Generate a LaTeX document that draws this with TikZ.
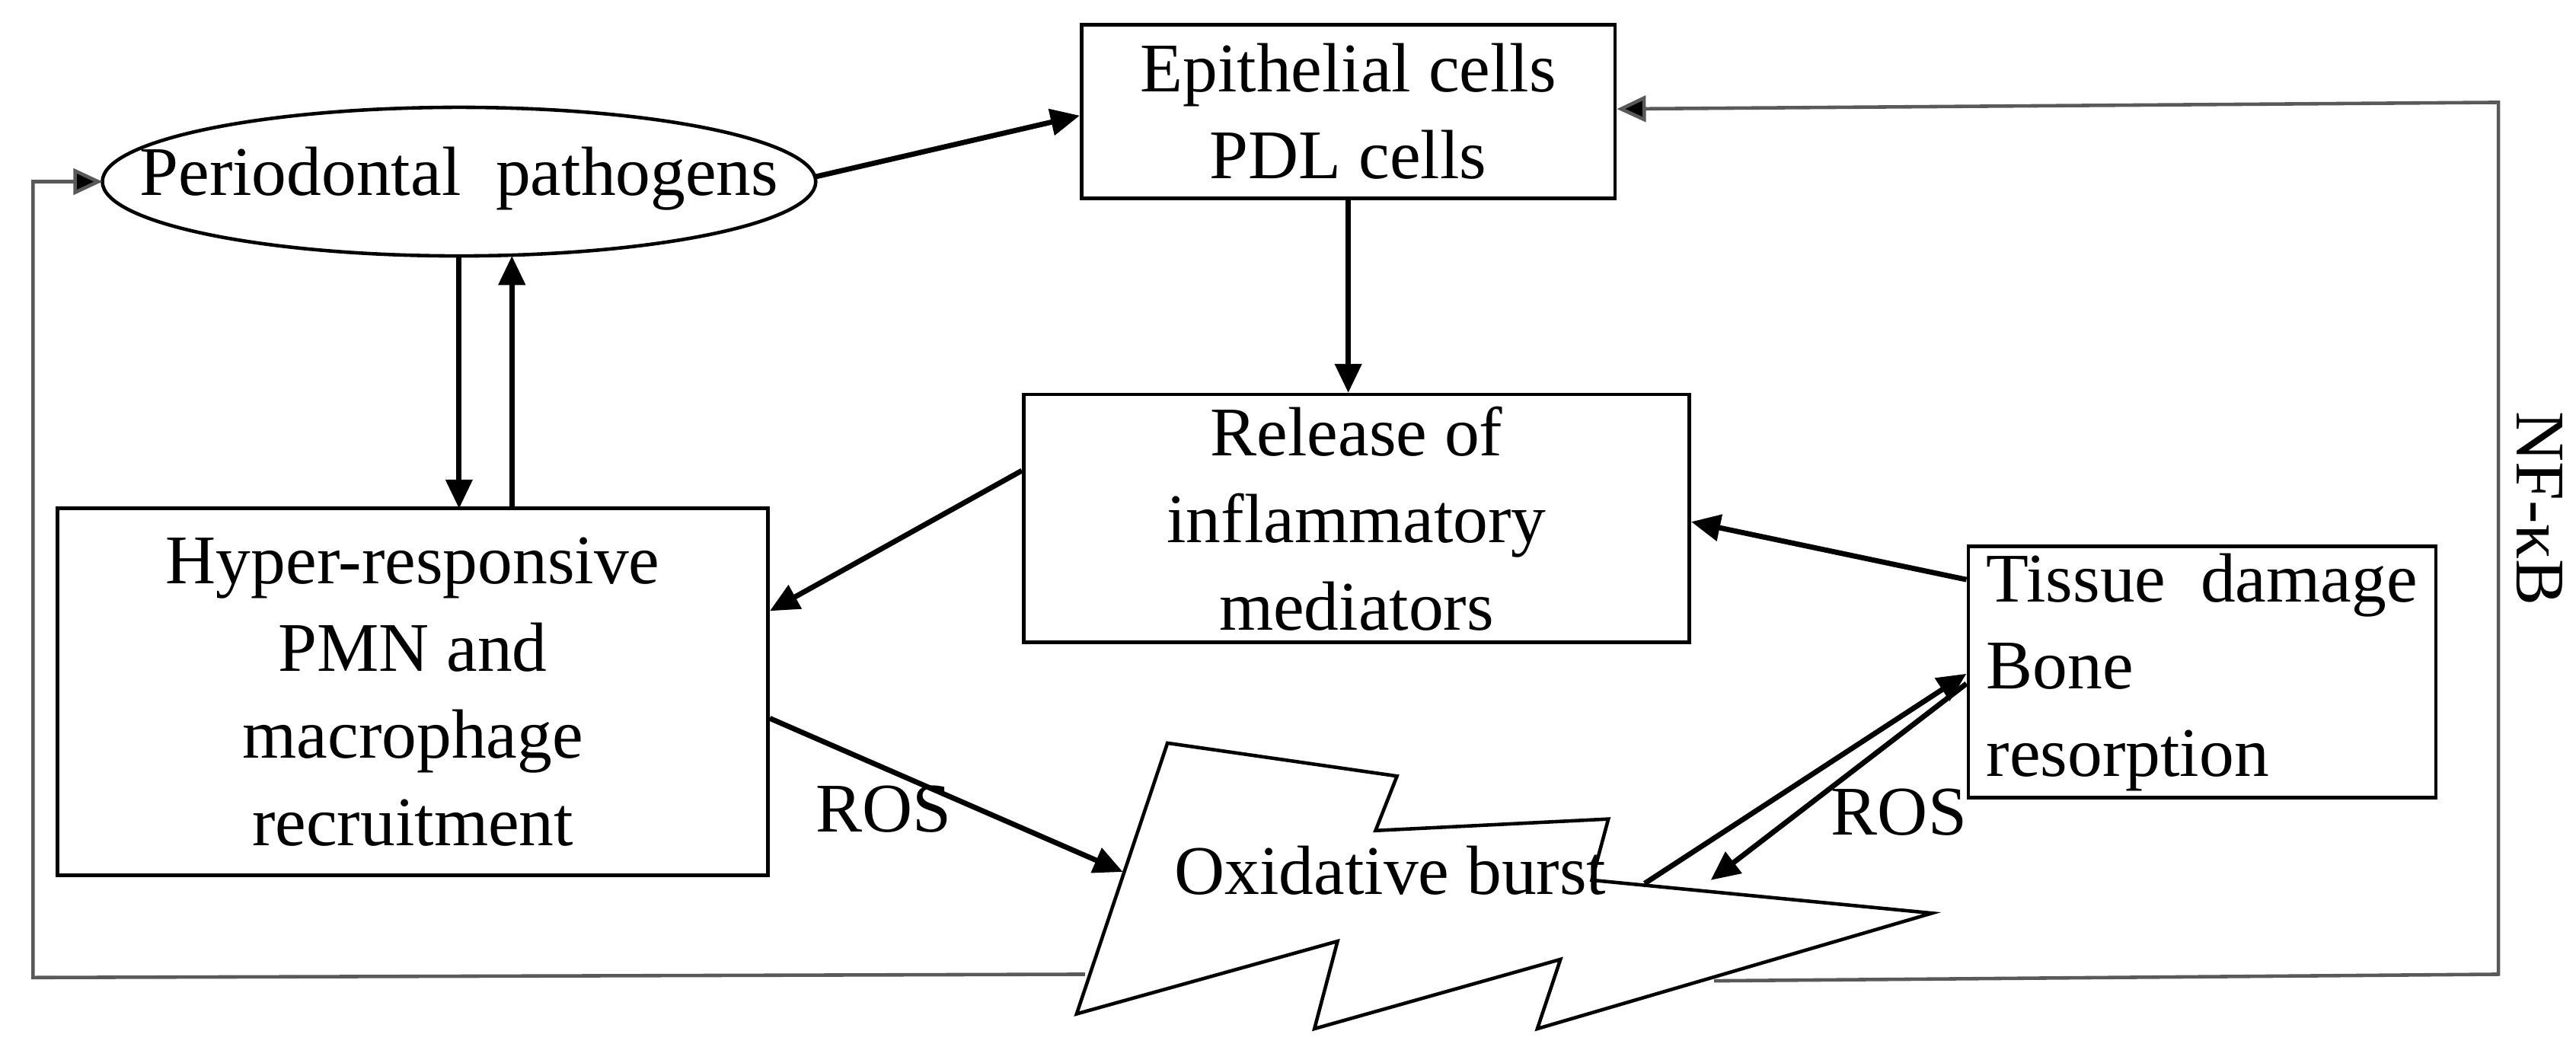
\documentclass[tikz,border=0pt]{standalone}
\usepackage{fontspec}
\setmainfont{Liberation Serif}
\usetikzlibrary{arrows.meta,shapes.geometric}
\begin{document}
\begin{tikzpicture}[x=0.01cm,y=-0.01cm,
  every node/.style={font=\fontsize{12}{12}\selectfont},
  box/.style={draw,line width=0.6pt,inner sep=0pt,align=center},
  arr/.style={line width=0.9pt,-{Triangle[length=5pt,width=4.5pt]}},
  garr/.style={line width=0.6pt,draw=black!65,-{Triangle[length=5pt,width=4.5pt,fill=black]}},
  lbl/.style={inner sep=0pt}]
\useasboundingbox (0,0) rectangle (1560,634);
\draw[line width=0.6pt] (278,110) ellipse [x radius=216, y radius=45];
\node[lbl] (pp) at (278,108) {Periodontal\ \ pathogens};
\coordinate (ppw) at (62,110);
\coordinate (ppe) at (494,107);
\node[box,minimum width=3.23cm,minimum height=1.05cm] (ep) at (816.5,67.5) {Epithelial cells\\[3pt]PDL cells};
\node[box,minimum width=4.03cm,minimum height=1.5cm] (rel) at (821.5,314) {Release of\\[3pt]inflammatory\\[3pt]mediators};
\node[box,minimum width=4.3cm,minimum height=2.22cm] (hyp) at (250,419) {Hyper-responsive\\[3pt]PMN and\\[3pt]macrophage\\[3pt]recruitment};
\node[box,minimum width=2.83cm,minimum height=1.52cm,align=left] (td) at (1333.5,407) {Tissue\ \ damage\\[3pt]Bone\\[3pt]resorption};
% lightning
\draw[line width=0.6pt] (707,450) -- (846,470) -- (833,503) -- (974,496) -- (964,533) -- (1170,553)
  -- (931,623) -- (945,581) -- (796,623) -- (810,570) -- (652,614) -- cycle;
\node[lbl] (ox) at (842,527) {Oxidative burst};
\coordinate (oxl) at (680,528);
\coordinate (oxa) at (996,535);
\coordinate (oxb) at (1036,533);
% arrows
\draw[arr] (ppe) -- (ep.west |- 0,70);
\draw[arr] (ep.south) -- (ep.south |- rel.north);
\draw[arr] (278,155) -- (278,308);
\draw[arr] (310,308) -- (310,155);
\draw[arr] (rel.west |- 0,285) -- (hyp.east |- 0,370);
\draw[arr] (td.west |- 0,351) -- (rel.east |- 0,316);
\draw[arr] (hyp.east |- 0,435) -- (oxl);
\draw[arr] (oxa) -- (td.west |- 0,408);
\draw[arr] (td.west |- 0,414) -- (oxb);
\node[lbl] (r1) at (535,490) {ROS};
\node[lbl] (r2) at (1150,492) {ROS};
% feedback loops
\coordinate (gl) at (657,590);
\coordinate (gr) at (1038,594);
\draw[garr] (gl) -- (20,592) -- (20,110) -- (ppw);
\draw[garr] (gr) -- (1513,590) -- (1513,62) -- (ep.east |- 0,66);
\node[lbl,rotate=-90] (nf) at (1538,308) {NF-κB};
\end{tikzpicture}
\end{document}
